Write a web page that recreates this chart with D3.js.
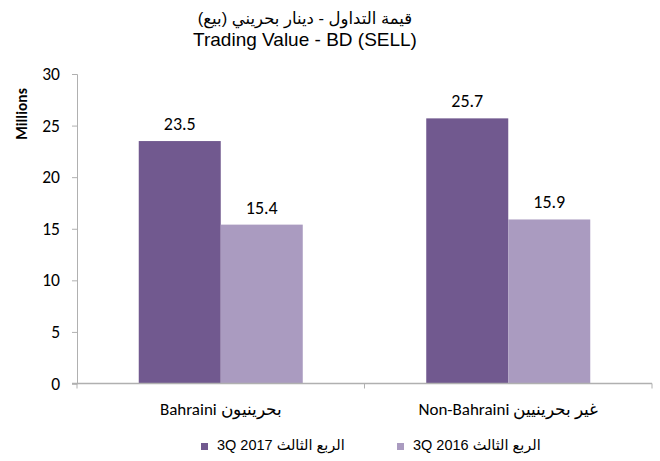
<!DOCTYPE html>
<html>
<head>
<meta charset="utf-8">
<script src="https://cdn.jsdelivr.net/npm/d3@7"></script>
<style>
  body { margin: 0; background: #fff; }
  svg { display: block; }
</style>
</head>
<body>
<div id="chart"></div>
<script>
// Chart data
const categories = ["Bahraini بحرينيون", "Non-Bahraini غير بحرينيين"];
const seriesNames = ["3Q 2017 الربع الثالث", "3Q 2016 الربع الثالث"];
const values2017 = [23.5, 25.7];
const values2016 = [15.4, 15.9];
const yTicks = [0, 5, 10, 15, 20, 25, 30];
const titleArabic = "قيمة التداول - دينار بحريني (بيع)";
const titleEnglish = "Trading Value - BD (SELL)";

const width = 660;
const height = 461;
const margin = { top: 74, right: 8, bottom: 77.5, left: 77 };

const color = d3.scaleOrdinal()
    .domain(seriesNames)
    .range(["#71598f", "#aa9bc0"]);

const rows = categories.map((c, i) => ({
    category: c,
    values: [
        { name: seriesNames[0], value: values2017[i] },
        { name: seriesNames[1], value: values2016[i] }
    ]
}));

const svg = d3.select("#chart")
    .append("svg")
    .attr("width", width)
    .attr("height", height);

const x0 = d3.scaleBand()
    .domain(categories)
    .range([margin.left, width - margin.right])
    .paddingInner(0)
    .paddingOuter(0);

const x1 = d3.scaleBand()
    .domain(seriesNames)
    .range([0, x0.bandwidth()])
    .paddingInner(0)
    .paddingOuter(0.753);

const y = d3.scaleLinear()
    .domain([0, 30])
    .range([height - margin.bottom, margin.top]);

const numFont = "Carlito, Lato, sans-serif";
const arialFont = "'Liberation Sans', Arial, 'DejaVu Sans', sans-serif";
const axisColor = "#b0b0b0";

// Title
svg.append("text")
    .attr("x", 305)
    .attr("y", 24)
    .attr("text-anchor", "middle")
    .attr("font-family", arialFont)
    .attr("font-size", 16.5)
    .attr("fill", "#000")
    .text(titleArabic);

svg.append("text")
    .attr("x", 305)
    .attr("y", 46)
    .attr("text-anchor", "middle")
    .attr("font-family", arialFont)
    .attr("font-size", 19)
    .attr("fill", "#000")
    .text(titleEnglish);

// Y axis
const yAxis = svg.append("g")
    .attr("transform", `translate(${margin.left},0)`)
    .call(d3.axisLeft(y).tickValues(yTicks).tickSize(5).tickPadding(12));
yAxis.select(".domain").attr("stroke", axisColor);
yAxis.selectAll(".tick line").attr("stroke", axisColor);
yAxis.selectAll(".tick text")
    .attr("font-family", numFont)
    .attr("font-size", 17.5)
    .attr("fill", "#000");

svg.append("text")
    .attr("transform", `translate(27,114) rotate(-90)`)
    .attr("text-anchor", "middle")
    .attr("font-family", numFont)
    .attr("font-weight", "bold")
    .attr("font-size", 15.5)
    .attr("fill", "#000")
    .text("Millions");

// Bars
const groups = svg.selectAll(".group")
    .data(rows)
    .enter()
    .append("g")
    .attr("class", "group")
    .attr("transform", d => `translate(${x0(d.category)},0)`);

groups.selectAll("rect")
    .data(d => d.values)
    .enter()
    .append("rect")
    .attr("x", d => x1(d.name))
    .attr("y", d => y(d.value))
    .attr("width", x1.bandwidth())
    .attr("height", d => y(0) - y(d.value))
    .attr("fill", d => color(d.name));

groups.selectAll(".label")
    .data(d => d.values)
    .enter()
    .append("text")
    .attr("class", "label")
    .attr("x", d => x1(d.name) + x1.bandwidth() / 2)
    .attr("y", d => y(d.value) - 11)
    .attr("text-anchor", "middle")
    .attr("font-family", numFont)
    .attr("font-size", 18)
    .attr("fill", "#000")
    .text(d => d.value.toFixed(1));

// X axis
const xAxisY = y(0);
svg.append("line")
    .attr("x1", margin.left - 5)
    .attr("x2", width - margin.right)
    .attr("y1", xAxisY)
    .attr("y2", xAxisY)
    .attr("stroke", axisColor)
    .attr("stroke-width", 1.5);

const boundaries = [margin.left, x0(categories[1]), width - margin.right];
svg.selectAll(".xtick")
    .data(boundaries)
    .enter()
    .append("line")
    .attr("x1", d => d)
    .attr("x2", d => d)
    .attr("y1", xAxisY)
    .attr("y2", xAxisY + 5)
    .attr("stroke", axisColor);

svg.selectAll(".xlabel")
    .data(categories)
    .enter()
    .append("text")
    .attr("x", d => x0(d) + x0.bandwidth() / 2)
    .attr("y", 415)
    .attr("text-anchor", "middle")
    .attr("font-family", numFont)
    .attr("font-size", 17)
    .attr("fill", "#000")
    .text(d => d);

// Legend
const legend = svg.append("g");
const legendStarts = [201, 397];
seriesNames.forEach((name, i) => {
    const item = legend.append("g").attr("transform", `translate(${legendStarts[i]},0)`);
    item.append("rect")
        .attr("x", 0)
        .attr("y", 443)
        .attr("width", 7)
        .attr("height", 7)
        .attr("fill", color(name));
    item.append("text")
        .attr("x", 16)
        .attr("y", 450)
        .attr("font-family", arialFont)
        .attr("font-size", 14.5)
        .attr("fill", "#000")
        .text(name);
});
</script>
</body>
</html>
